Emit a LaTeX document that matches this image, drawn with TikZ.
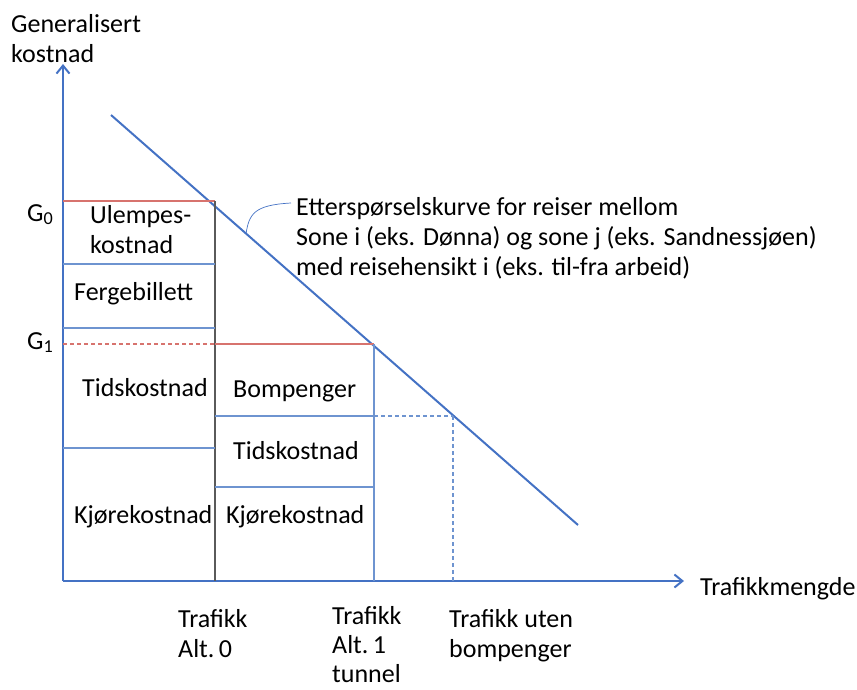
\documentclass[tikz,border=0pt]{standalone}
\usepackage{fontspec}
\setmainfont{Carlito}
\usetikzlibrary{arrows.meta}
\definecolor{kurveblaa}{RGB}{68,114,196}
\definecolor{linjeblaa}{RGB}{110,148,208}
\definecolor{linjerod}{RGB}{215,115,110}
\definecolor{linjegraa}{RGB}{90,90,90}
\begin{document}
\begin{tikzpicture}[x=1pt, y=-1pt,
    akse/.style ={draw=kurveblaa, line width=2pt, -{Straight Barb[length=8pt,width=13pt]}},
    kurve/.style ={draw=kurveblaa, line width=2pt},
    skille/.style ={draw=linjeblaa, line width=1.2pt},
    rodlinje/.style ={draw=linjerod, line width=1.2pt},
    stiplet/.style ={dash pattern=on 4pt off 3pt},
    tekst/.style ={font=\fontsize{26}{30}\selectfont, inner sep=0pt, align=left, anchor=base west}]
   \useasboundingbox (0,0) rectangle (857,689);

   \coordinate (O)    at (63,581);
   \coordinate (ytop) at (63,64);
   \coordinate (xend) at (684,581);
   \coordinate (d1)   at (111,115);
   \coordinate (d2)   at (578,525);

   \coordinate (a0top) at (215,201);
   \coordinate (a0bot) at (215,581);
   \coordinate (g0)    at (63,201);
   \coordinate (u1l)   at (63,264);
   \coordinate (u1r)   at (215,264);
   \coordinate (f1l)   at (63,328);
   \coordinate (f1r)   at (215,328);
   \coordinate (g1)    at (63,344);
   \coordinate (g1m)   at (215,344);
   \coordinate (a1top) at (374,344);
   \coordinate (a1bot) at (374,581);
   \coordinate (t1l)   at (63,448);
   \coordinate (t1r)   at (215,448);
   \coordinate (b1l)   at (215,416);
   \coordinate (b1r)   at (374,416);
   \coordinate (b2)    at (453,416);
   \coordinate (b2bot) at (453,581);
   \coordinate (k1l)   at (215,487);
   \coordinate (k1r)   at (374,487);
   \coordinate (callA) at (246,234);
   \coordinate (callB) at (291,203);

   % akser og etterspørselskurve
   \draw[akse] (O) to (ytop);
   \draw[akse] (O) to (xend);
   \draw[kurve] (d1) to (d2);

   % Alt. 0
   \draw[rodlinje] (g0) to (a0top);
   \draw[draw=linjegraa, line width=1.2pt] (a0top) to (a0bot);
   \draw[skille] (u1l) to (u1r);
   \draw[skille] (f1l) to (f1r);
   \draw[skille] (t1l) to (t1r);
   \draw[rodlinje, stiplet] (g1) to (g1m);

   % Alt. 1
   \draw[rodlinje] (g1m) to (a1top);
   \draw[skille] (a1top) to (a1bot);
   \draw[skille] (b1l) to (b1r);
   \draw[skille] (k1l) to (k1r);
   \draw[skille, stiplet] (b1r) to (b2);
   \draw[skille, stiplet] (b2) to (b2bot);

   % forklaring
   \draw[draw=kurveblaa, line width=0.7pt] (callA) .. controls (249,214) and (254,205) .. (callB);

   % anker = grunnlinjen til siste linje
   \node[tekst] (ylab) at (11,62) {Generalisert\\kostnad};
   \node[tekst] (xlab) at (700,595) {Trafikkmengde};
   \node[tekst] (G0) at (27,221) {G\textsubscript{0}};
   \node[tekst] (G1) at (27,349) {G\textsubscript{1}};
   \node[tekst] (forkl) at (296,275)
      {Etterspørselskurve for reiser mellom\\Sone i (eks. Dønna) og sone j (eks. Sandnessjøen)\\med reisehensikt i (eks. til-fra arbeid)};

   \node[tekst] (ulempe) at (90,253) {Ulempes-\\kostnad};
   \node[tekst] (ferge) at (74,300) {Fergebillett};
   \node[tekst] (tid0) at (82,396) {Tidskostnad};
   \node[tekst] (kjor0) at (74,523) {Kjørekostnad};
   \node[tekst] (bom) at (233,397) {Bompenger};
   \node[tekst] (tid1) at (233,459) {Tidskostnad};
   \node[tekst] (kjor1) at (226,523) {Kjørekostnad};

   \node[tekst] (alt0) at (178,657) {Trafikk\\Alt.\,0};
   \node[tekst, font=\fontsize{26}{29}\selectfont] (alt1) at (332,682) {Trafikk\\Alt.\,1\\tunnel};
   \node[tekst] (utenbom) at (449,657) {Trafikk uten\\bompenger};
 \end{tikzpicture}
\end{document}
